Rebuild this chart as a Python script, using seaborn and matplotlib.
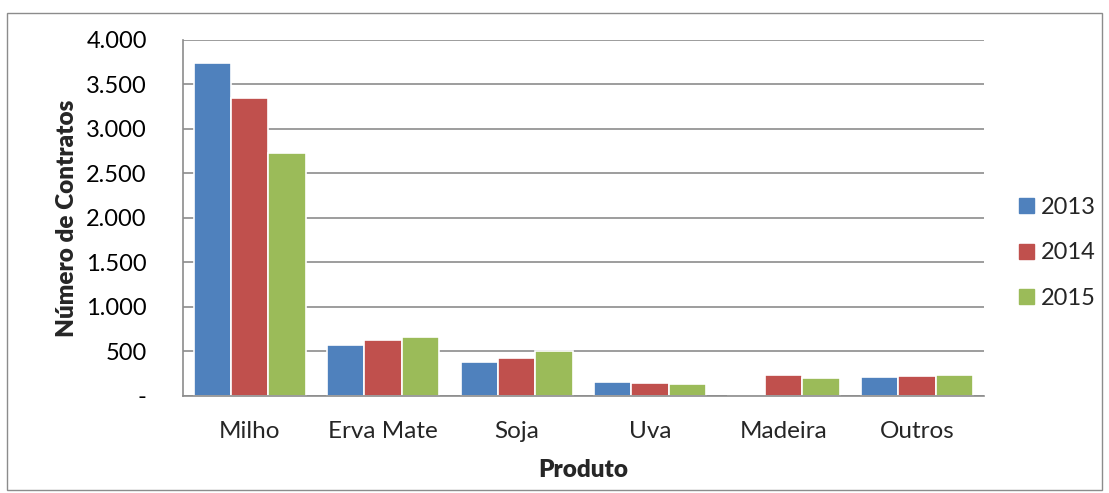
import matplotlib
matplotlib.use("Agg")
import matplotlib.pyplot as plt
import matplotlib.patches as mpatches
from matplotlib.ticker import FuncFormatter
import pandas as pd
import seaborn as sns

produtos = ["Milho", "Erva Mate", "Soja", "Uva", "Madeira", "Outros"]
anos = ["2013", "2014", "2015"]
v2013 = [3745, 573, 382, 157, 0, 213]
v2014 = [3352, 629, 427, 150, 236, 225]
v2015 = [2733, 666, 506, 135, 202, 236]
cores = ["#4F81BD", "#C0504D", "#9BBB59"]

df = pd.DataFrame({
    "Produto": produtos * 3,
    "Ano": [a for a in anos for _ in produtos],
    "Contratos": v2013 + v2014 + v2015,
})

sns.set_theme(style="white")
plt.rcParams["font.family"] = ["Lato", "DejaVu Sans"]

fig = plt.figure(figsize=(11.09, 4.93), dpi=100)
ax = fig.add_axes([0.165, 0.197, 0.722, 0.722])

sns.barplot(data=df, x="Produto", y="Contratos", hue="Ano", order=produtos,
            hue_order=anos, palette=cores, saturation=1, width=0.84,
            edgecolor="white", linewidth=1.2, ax=ax, legend=False)

ax.set_ylim(0, 4000)
ax.set_xlim(-0.5, 5.5)
ax.set_yticks(range(0, 4001, 500))
ax.yaxis.set_major_formatter(FuncFormatter(
    lambda v, p: "-" if v == 0 else f"{int(v):,}".replace(",", ".")))
ax.yaxis.grid(True, color="#8c8c8c", linewidth=1.2)
ax.set_axisbelow(True)
for s in ["top", "right"]:
    ax.spines[s].set_visible(False)
for s in ["left", "bottom"]:
    ax.spines[s].set_color("#8c8c8c")
    ax.spines[s].set_linewidth(1.2)
ax.tick_params(axis="y", labelsize=17, pad=26, colors="black", length=0)
ax.tick_params(axis="x", labelsize=17.5, pad=18, length=0)
ax.set_ylabel("Número de Contratos", fontsize=17.5, fontweight="heavy", labelpad=6)
ax.set_xlabel("Produto", fontsize=17.5, fontweight="heavy", labelpad=12)

handles = [mpatches.Patch(color=c, label=a) for c, a in zip(cores, anos)]
fig.legend(handles=handles, loc="center left", bbox_to_anchor=(0.9, 0.487),
           frameon=False, fontsize=17, handlelength=0.6, handleheight=0.6,
           handletextpad=0.3, labelspacing=1.05)

border = mpatches.Rectangle((0.006, 0.006), 0.988, 0.968, transform=fig.transFigure,
                            fill=False, edgecolor="#8c8c8c", linewidth=1)
fig.patches.append(border)

fig.savefig("out.png", dpi=100)
